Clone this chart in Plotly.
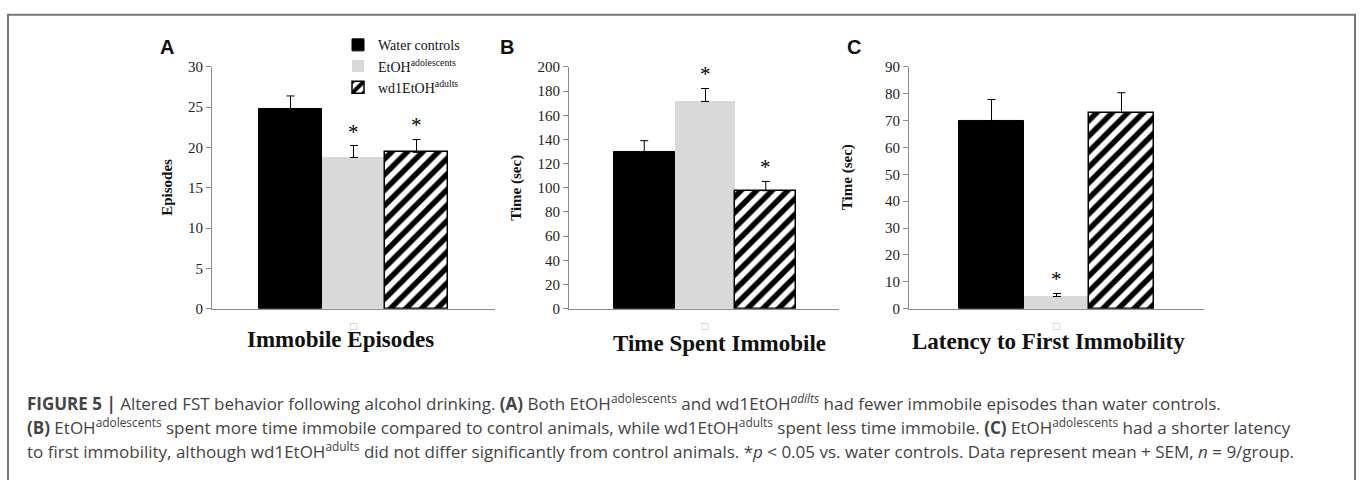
import plotly.graph_objects as go

W, H = 1360, 480

# ---------------- data ----------------
groups = ["Water controls", "EtOH<sup>adolescents</sup>", "wd1EtOH<sup>adults</sup>"]
panel_letters = ["A", "B", "C"]
panel_titles = ["Immobile Episodes", "Time Spent Immobile", "Latency to First Immobility"]
y_titles = ["Episodes", "Time (sec)", "Time (sec)"]

episodes_mean = [24.8, 18.8, 19.4]
episodes_sem = [1.6, 1.4, 1.6]
time_mean = [130.0, 171.5, 97.6]
time_sem = [9.0, 11.0, 7.7]
latency_mean = [69.9, 4.6, 73.0]
latency_sem = [8.0, 1.2, 7.4]

episodes_sig = [False, True, True]
time_sig = [False, True, True]
latency_sig = [False, True, False]

y_max = [30, 200, 90]
y_step = [5, 20, 10]

caption_lines = [
    "<b>FIGURE 5 |</b> Altered FST behavior following alcohol drinking. <b>(A)</b> Both EtOH<sup>adolescents</sup> and wd1EtOH<sup><i>adilts</i></sup> had fewer immobile episodes than water controls.",
    "<b>(B)</b> EtOH<sup>adolescents</sup> spent more time immobile compared to control animals, while wd1EtOH<sup>adults</sup> spent less time immobile. <b>(C)</b> EtOH<sup>adolescents</sup> had a shorter latency",
    "to first immobility, although wd1EtOH<sup>adults</sup> did not differ significantly from control animals. *<i>p</i> &lt; 0.05 vs. water controls. Data represent mean + SEM, <i>n</i> = 9/group.",
]

means = [episodes_mean, time_mean, latency_mean]
sems = [episodes_sem, time_sem, latency_sem]
sigs = [episodes_sig, time_sig, latency_sig]

# ---------------- layout geometry (pixels) ----------------
x_dom_px = [(212, 495), (569, 839), (909, 1204)]
x_ranges = [(-1.246, 3.246), (-1.238, 3.205), (-1.27, 3.27)]
y_dom = [1 - 311 / H, 1 - 61 / H]

serif = "Liberation Serif"
sans = "Liberation Sans"
cap_font = "Open Sans"


def px(x):
    return x / W


def py(y):
    return 1 - y / H


bar_styles = [
    dict(color="black", line=dict(color="black", width=1)),
    dict(color="#d9d9d9", line=dict(color="#d9d9d9", width=0)),
    dict(color="white", line=dict(color="black", width=1.5),
         pattern=dict(shape="/", fgcolor="black", bgcolor="white", size=11,
                      solidity=0.5, fgopacity=1)),
]

fig = go.Figure()
for p in range(3):
    sfx = "" if p == 0 else str(p + 1)
    for g in range(3):
        fig.add_trace(go.Bar(
            x=[g], y=[means[p][g]], width=1,
            name=groups[g], legendgroup=str(g), showlegend=(p == 0),
            marker=bar_styles[g],
            error_y=dict(type="data", symmetric=False, array=[sems[p][g]], arrayminus=[0],
                         color="black", thickness=1, width=4),
            xaxis="x" + sfx, yaxis="y" + sfx, hoverinfo="skip",
        ))

layout = dict(
    width=W, height=H, margin=dict(l=0, r=0, t=0, b=0),
    paper_bgcolor="white", plot_bgcolor="white",
    barmode="overlay", bargap=0,
    font=dict(family=serif, size=14, color="#222"),
    showlegend=True,
    legend=dict(x=px(338), y=py(22), xanchor="left", yanchor="top",
                bgcolor="rgba(0,0,0,0)", font=dict(family=serif, size=14, color="#111"),
                itemwidth=30, tracegroupgap=0, traceorder="normal"),
)
annotations = []
for p in range(3):
    sfx = "" if p == 0 else str(p + 1)
    x0, x1 = x_dom_px[p]
    layout["xaxis" + sfx] = dict(
        domain=[px(x0), px(x1)], range=list(x_ranges[p]), anchor="y" + sfx,
        showgrid=False, zeroline=False, showline=True, linecolor="#8c8c8c", linewidth=1,
        tickvals=[1], ticktext=["\u25a1"], ticks="", ticklabelstandoff=6,
        tickfont=dict(family=sans, size=12, color="#c0c0c0"), fixedrange=True,
    )
    layout["yaxis" + sfx] = dict(
        domain=y_dom, range=[0, y_max[p]], dtick=y_step[p], anchor="x" + sfx,
        showgrid=False, zeroline=False, showline=True, linecolor="#8c8c8c", linewidth=1,
        ticks="outside", ticklen=5, tickcolor="#8c8c8c",
        tickfont=dict(family=serif, size=15, color="#222"), fixedrange=True,
    )
    # significance stars
    for g in range(3):
        if sigs[p][g]:
            annotations.append(dict(
                x=g, y=means[p][g] + sems[p][g], xref="x" + sfx, yref="y" + sfx,
                text="*", showarrow=False, xanchor="center", yanchor="bottom", yshift=0,
                font=dict(family=serif, size=21, color="black")))

ylab_x = [167, 517, 847]
ylab_y = [186, 186, 175]
for p in range(3):
    annotations.append(dict(x=px(ylab_x[p]), y=py(ylab_y[p]), xref="paper", yref="paper",
                            xanchor="center", yanchor="middle",
                            text="<b>" + y_titles[p] + "</b>", textangle=-90, showarrow=False,
                            font=dict(family=serif, size=15, color="#111")))

title_x = [340, 719, 1048]
title_y = [343, 347, 345]
for p in range(3):
    annotations.append(dict(x=px(title_x[p]), y=py(title_y[p]), xref="paper", yref="paper",
                            xanchor="center", yanchor="middle",
                            text="<b>" + panel_titles[p] + "</b>", showarrow=False,
                            font=dict(family=serif, size=23, color="#111")))

letter_x = [167, 507, 854]
for p in range(3):
    annotations.append(dict(x=px(letter_x[p]), y=py(40), xref="paper", yref="paper",
                            xanchor="center", yanchor="middle",
                            text="<b>" + panel_letters[p] + "</b>", showarrow=False,
                            font=dict(family=sans, size=20, color="#111")))

cap_y = [408, 433, 458]
for i, line in enumerate(caption_lines):
    annotations.append(dict(x=px(25), y=py(cap_y[i]), xref="paper", yref="paper",
                            text=line, showarrow=False, xanchor="left", yanchor="middle",
                            align="left",
                            font=dict(family=cap_font, size=17, color="#444")))

layout["annotations"] = annotations
layout["shapes"] = [dict(type="rect", xref="paper", yref="paper",
                         x0=px(8), x1=px(1355), y0=-0.1, y1=py(7),
                         line=dict(color="#777", width=2), fillcolor="rgba(0,0,0,0)")]

fig.update_layout(**layout)
fig.write_html("out.html", config={"displayModeBar": False},
               post_script="document.body.style.margin='0';")
